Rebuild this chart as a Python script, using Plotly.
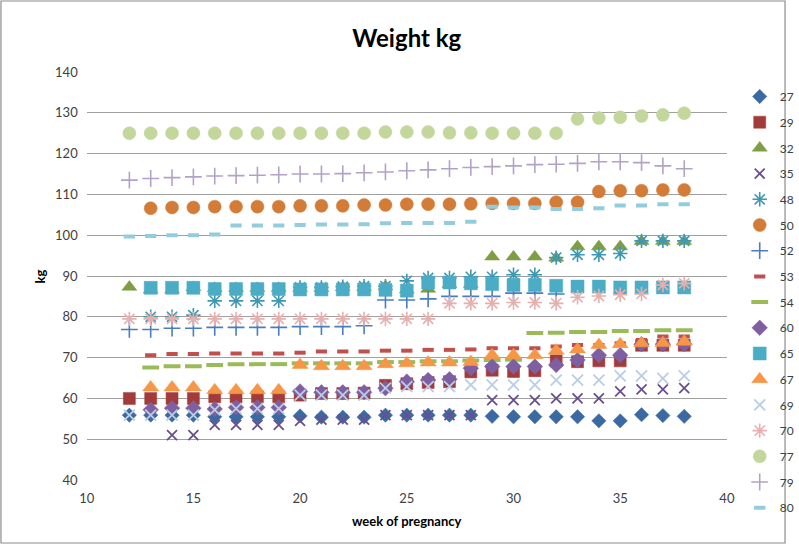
import plotly.graph_objects as go

weeks = list(range(12, 39))
N = None

s27 = [55.9, 55.9, 55.9, 55.9, 55.5, 55.5, 55.5, 55.5, 55.7, 55.4, 55.4, 55.4, 55.9, 55.9, 55.9, 55.9, 55.9, 55.6, 55.5, 55.5, 55.5, 55.5, 54.5, 54.5, 56.0, 55.8, 55.6]
s29 = [60.0, 60.0, 60.0, 60.0, 60.4, 60.4, 60.4, 60.4, 60.8, 61.2, 61.2, 61.3, 63.2, 63.6, 63.9, 64.1, 66.5, 66.9, 66.6, 66.8, 69.2, 69.0, 69.2, 69.2, 73.0, 73.0, 73.0]
s32 = [87.3, 86.6, 86.6, 87.2, 87.0, 87.0, 87.0, 87.0, 87.0, 87.0, 87.2, 87.2, 87.4, 86.6, 86.8, 88.0, 88.0, 94.7, 94.7, 94.7, 94.4, 97.2, 97.2, 97.2, 98.5, 98.5, 98.5]
s35 = [N, N, 51.0, 51.0, 53.5, 53.5, 53.5, 53.5, 54.5, 54.8, 54.8, 54.8, 55.9, 55.9, 55.9, 55.9, 55.9, 59.6, 59.6, 59.6, 60.0, 60.0, 60.0, 61.7, 62.2, 62.2, 62.5]
s48 = [N, 80.0, 80.0, 80.4, 83.9, 83.9, 83.9, 83.9, 87.2, 87.2, 87.4, 87.5, 87.5, 88.8, 89.5, 89.5, 89.8, 89.8, 90.3, 90.3, 94.5, 95.2, 95.2, 95.5, 98.6, 98.6, 98.6]
s50 = [N, 106.6, 106.8, 106.8, 107.0, 107.0, 107.0, 107.0, 107.2, 107.2, 107.2, 107.4, 107.4, 107.6, 107.6, 107.6, 107.7, 107.8, 107.8, 107.8, 108.1, 108.1, 110.7, 110.9, 110.9, 111.1, 111.1]
s52 = [76.9, 76.9, 77.2, 77.2, 77.4, 77.4, 77.4, 77.4, 77.6, 77.6, 77.6, 77.8, 84.1, 84.1, 84.4, 85.0, 85.0, 85.0, 85.8, 85.8, 85.6, N, N, N, N, N, N]
s53 = [N, 70.6, 70.9, 70.9, 71.0, 71.0, 71.0, 71.0, 71.2, 71.5, 71.5, 71.5, 71.7, 71.7, 71.9, 71.9, 72.0, 72.3, 72.3, 72.3, 72.7, 73.1, 73.1, 73.5, 74.3, 75.2, 75.2]
s54 = [N, 67.6, 67.9, 67.9, 68.2, 68.4, 68.4, 68.4, 68.6, 68.6, 68.6, 68.6, 68.9, 68.9, 69.1, 69.1, 69.3, 69.4, 69.5, 76.0, 76.1, 76.3, 76.3, 76.5, 76.5, 76.7, 76.7]
s60 = [N, 57.2, 57.6, 57.6, 57.4, 57.8, 57.8, 57.8, 61.7, 61.5, 61.5, 61.5, 62.5, 64.1, 64.5, 64.7, 67.4, 67.8, 67.8, 67.8, 68.2, 69.4, 70.6, 70.6, 73.3, 73.3, 73.3]
s65 = [N, 87.1, 87.1, 87.1, 86.8, 86.8, 86.8, 86.8, 86.7, 86.7, 86.7, 86.7, 86.6, 86.4, 88.4, 88.4, 88.2, 88.0, 87.8, 87.8, 87.6, 87.4, 87.4, 87.2, 87.2, 87.2, 87.2]
s67 = [N, 62.7, 62.7, 62.7, 62.0, 62.0, 62.0, 62.0, 68.2, 67.9, 67.9, 67.9, 68.4, 68.6, 68.8, 68.8, 68.9, 70.6, 70.6, 70.6, 71.7, 72.0, 73.1, 73.3, 73.5, 73.6, 73.9]
s69 = [55.9, 55.9, 55.9, 55.9, 57.2, 57.5, 57.5, 57.5, 60.8, 60.8, 60.8, 60.8, 62.5, 62.9, 62.9, 62.9, 63.3, 63.3, 63.3, 63.3, 64.5, 64.5, 64.5, 65.5, 65.5, 64.9, 65.5]
s70 = [79.5, 79.5, 79.5, 79.5, 79.5, 79.5, 79.5, 79.5, 79.5, 79.5, 79.5, 79.5, 79.5, 79.5, 79.5, 83.3, 83.3, 83.3, 83.5, 83.5, 83.3, 84.8, 85.1, 85.4, 85.6, 87.8, 88.2]
s77 = [125.0, 125.0, 125.0, 125.0, 125.0, 125.0, 125.0, 125.0, 125.0, 125.0, 125.0, 125.0, 125.3, 125.3, 125.3, 125.1, 125.1, 125.0, 125.0, 125.0, 125.0, 128.5, 128.7, 128.9, 129.2, 129.5, 129.9]
s79 = [113.5, 113.9, 114.1, 114.3, 114.5, 114.6, 114.7, 114.8, 115.0, 115.0, 115.1, 115.3, 115.5, 115.8, 116.0, 116.3, 116.6, 116.8, 117.0, 117.3, 117.4, 117.6, 118.0, 118.0, 117.8, 117.0, 116.3]
s80 = [99.7, 99.8, 100.0, 100.0, 100.2, 102.4, 102.4, 102.4, 102.5, 102.6, 102.6, 102.7, 102.9, 103.0, 103.0, 103.0, 103.3, 107.0, 106.8, 106.8, 106.4, 106.4, 106.6, 107.3, 107.3, 107.6, 107.6]

series_names = ["27", "29", "32", "35", "48", "50", "52", "53", "54", "60", "65", "67", "69", "70", "77", "79", "80"]
series_vals = [s27, s29, s32, s35, s48, s50, s52, s53, s54, s60, s65, s67, s69, s70, s77, s79, s80]

y_ticks = [40, 50, 60, 70, 80, 90, 100, 110, 120, 130, 140]
x_ticks = [10, 15, 20, 25, 30, 35, 40]

# (symbol, size, color, line width)
styles = [
    ("diamond", 11, "#3B6AA2", 0),
    ("square", 12, "#A23B39", 0),
    ("triangle-up", 13, "#7F9D45", 0),
    ("x-thin-open", 10, "#6A4F8F", 1.8),
    ("asterisk-open", 12, "#3E98B2", 1.6),
    ("circle", 13, "#D27C38", 0),
    ("cross-thin-open", 12, "#4A7DC0", 1.6),
    ("line-ew-open", 8, "#C0504D", 4),
    ("line-ew-open", 12, "#9BBB59", 4),
    ("diamond", 12, "#7E60A2", 0),
    ("square", 13, "#4BACC6", 0),
    ("triangle-up", 14, "#F79646", 0),
    ("x-thin-open", 11, "#B9CDE5", 1.8),
    ("asterisk-open", 12, "#E6B0AE", 1.6),
    ("circle", 13, "#C3D69B", 0),
    ("cross-thin-open", 12, "#B3A2C7", 1.6),
    ("line-ew-open", 8, "#93CDDD", 4),
]

fig = go.Figure()
for i, (name, vals) in enumerate(zip(series_names, series_vals)):
    sym, size, col, lw = styles[i]
    if sym.endswith("-open"):
        marker = dict(symbol=sym, size=size, color=col, line=dict(color=col, width=lw))
    else:
        marker = dict(symbol=sym, size=size, color=col, line=dict(color=col, width=0.5))
    fig.add_trace(go.Scatter(x=weeks, y=vals, mode="markers", name=name,
                             legendgroup=name, marker=marker))

W, H = 799, 545
# plot area in pixels
PX0, PX1, PY0, PY1 = 88, 738, 72, 480

def fx(p):
    return p / W

def fy(p):
    return 1 - p / H

fig.update_layout(
    width=W, height=H,
    margin=dict(l=0, r=0, t=0, b=0, pad=0),
    paper_bgcolor="white", plot_bgcolor="white",
    font=dict(family="Lato, Carlito, Liberation Sans, sans-serif", size=13, color="#404040"),
    title=dict(text="<b>Weight kg</b>", x=(PX0 + PX1) / 2 / W, xref="paper", xanchor="center",
               y=fy(39), yanchor="middle",
               font=dict(size=24, color="#000000", family="Lato, sans-serif")),
    xaxis=dict(domain=[fx(PX0), fx(PX1)], range=[10, 40], tickvals=x_ticks, showgrid=False,
               zeroline=False, showline=False, ticks="", ticklabelstandoff=9,
               automargin=False, tickfont=dict(size=13, color="#404040")),
    yaxis=dict(domain=[fy(PY1), fy(PY0)], range=[40, 140], tickvals=y_ticks, showgrid=True,
               gridcolor="#A0A0A0", gridwidth=1, zeroline=False, showline=False, ticks="",
               ticklabelstandoff=8, automargin=False,
               tickfont=dict(size=13, color="#404040")),
    legend=dict(x=fx(751), xanchor="left", y=fy(82), yanchor="top",
                font=dict(size=12, color="#404040"), tracegroupgap=6.7,
                itemwidth=30, bgcolor="rgba(0,0,0,0)", borderwidth=0),
    showlegend=True,
)

fig.add_annotation(text="<b>kg</b>", x=fx(41), y=fy(276), xref="paper", yref="paper",
                   xanchor="center", yanchor="middle",
                   textangle=-90, showarrow=False, font=dict(size=13, color="#000000"))
fig.add_annotation(text="<b>week of pregnancy</b>", x=(PX0 + PX1) / 2 / W, y=fy(521),
                   xref="paper", yref="paper", xanchor="center", yanchor="middle",
                   showarrow=False, font=dict(size=13, color="#000000"))

fig.add_shape(type="rect", xref="paper", yref="paper",
              x0=fx(1), x1=fx(797), y0=fy(543), y1=fy(1),
              line=dict(color="#8C8C8C", width=1.2), fillcolor="rgba(0,0,0,0)", layer="below")

fig.write_html("out.html")
